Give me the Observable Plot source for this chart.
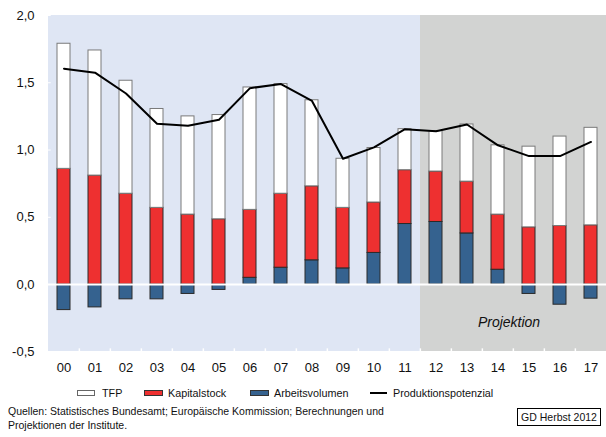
<!DOCTYPE html>
<html>
<head>
<meta charset="utf-8">
<script src="https://cdn.jsdelivr.net/npm/d3@7"></script>
<script src="https://cdn.jsdelivr.net/npm/@observablehq/plot@0.6"></script>
<style>
  html, body { margin: 0; padding: 0; background: #fff; }
  #wrap { position: relative; width: 606px; height: 437px; overflow: hidden; font-family: "Liberation Sans", Arial, sans-serif; color: #111; }
  #chart { position: absolute; left: 0; top: 0; width: 606px; height: 380px; overflow: hidden; }
  .lg-box { position: absolute; box-sizing: border-box; height: 6px; }
  .lg-txt { position: absolute; font-size: 10.8px; line-height: 12px; white-space: nowrap; }
  .lg-line { position: absolute; height: 2px; background: #000; }
  #caption { position: absolute; left: 8px; top: 404px; font-size: 10.5px; line-height: 14px; white-space: nowrap; }
  #gd { position: absolute; left: 517px; top: 408px; width: 84px; height: 18px; box-sizing: border-box; border: 1px solid #000; font-size: 10.5px; line-height: 16px; text-align: center; white-space: nowrap; }
</style>
</head>
<body>
<div id="wrap">
  <div id="chart"></div>
  <div class="lg-box" style="left:77px;top:390px;width:18px;background:#fff;border:1px solid #666;"></div>
  <div class="lg-txt" style="left:102px;top:387px;">TFP</div>
  <div class="lg-box" style="left:144px;top:390px;width:19px;background:#ee3030;border:1px solid #333;"></div>
  <div class="lg-txt" style="left:168px;top:387px;">Kapitalstock</div>
  <div class="lg-box" style="left:250px;top:390px;width:19px;background:#35628f;border:1px solid #333;"></div>
  <div class="lg-txt" style="left:274px;top:387px;">Arbeitsvolumen</div>
  <div class="lg-line" style="left:370px;top:392px;width:17px;"></div>
  <div class="lg-txt" style="left:393px;top:387px;">Produktionspotenzial</div>
  <div id="caption">Quellen: Statistisches Bundesamt; Europäische Kommission; Berechnungen und<br>Projektionen der Institute.</div>
  <div id="gd">GD Herbst 2012</div>
</div>
<script>
const years = ["00","01","02","03","04","05","06","07","08","09","10","11","12","13","14","15","16","17"];
const tfp   = [0.93, 0.93, 0.84, 0.735, 0.73, 0.775, 0.91, 0.815, 0.64, 0.365, 0.405, 0.305, 0.30, 0.425, 0.515, 0.60, 0.665, 0.725];
const kap   = [0.86, 0.81, 0.675, 0.57, 0.52, 0.485, 0.505, 0.55, 0.55, 0.45, 0.375, 0.40, 0.375, 0.385, 0.41, 0.425, 0.435, 0.44];
const arb   = [-0.19, -0.17, -0.11, -0.11, -0.07, -0.04, 0.05, 0.125, 0.18, 0.12, 0.235, 0.45, 0.465, 0.38, 0.11, -0.07, -0.15, -0.105];
const pot   = [1.605, 1.575, 1.42, 1.195, 1.18, 1.225, 1.46, 1.49, 1.365, 0.935, 1.02, 1.155, 1.14, 1.19, 1.035, 0.955, 0.955, 1.06];
const projStart = "12";
const yTicks = [-0.5, 0, 0.5, 1, 1.5, 2];
const components = ["Arbeitsvolumen", "Kapitalstock", "TFP"];
const fills   = {"Arbeitsvolumen": "#35628f", "Kapitalstock": "#ee3030", "TFP": "#ffffff"};
const strokes = {"Arbeitsvolumen": "#2a2a2a", "Kapitalstock": "#2a2a2a", "TFP": "#7a7a7a"};

const rows = years.flatMap((yr, i) => [
  {year: yr, comp: "Arbeitsvolumen", v: arb[i]},
  {year: yr, comp: "Kapitalstock", v: kap[i]},
  {year: yr, comp: "TFP", v: tfp[i]}
]);
const lineData = years.map((yr, i) => ({year: yr, v: pot[i]}));

const xRange = [45.4, 608.6];
const bw = (xRange[1] - xRange[0]) / years.length;
const fmt = d => d.toFixed(1).replace(".", ",");

const chart = Plot.plot({
  width: 606,
  height: 380,
  marginLeft: 45,
  marginTop: 15,
  marginBottom: 29,
  marginRight: 0,
  style: {fontFamily: "Liberation Sans, Arial, sans-serif", fontSize: "13px", color: "#111", background: "transparent"},
  x: {domain: years, range: xRange, padding: 0},
  y: {domain: [-0.5, 2], range: [351.3, 15]},
  marks: [
    Plot.barY(years, {x: d => d, y1: -0.5, y2: 2, fill: d => d >= projStart ? "#d2d3d2" : "#dfe6f4", shapeRendering: "crispEdges"}),
    Plot.barY(rows, Plot.stackY({
      x: "year", y: "v", z: "comp", order: components,
      fill: d => fills[d.comp], stroke: d => strokes[d.comp], strokeWidth: 1,
      insetLeft: 9, insetRight: 9
    })),
    Plot.ruleY([0], {stroke: "#fff", strokeWidth: 2}),
    Plot.tickY(yTicks, {y: d => d, x: () => years[0], insetRight: bw - 3, stroke: "#fff", strokeWidth: 1}),
    Plot.ruleX(years.slice(1), {x: d => d, dx: -bw / 2, y1: -0.5, y2: -0.478, stroke: "#fff", strokeWidth: 1.5}),
    Plot.line(lineData, {x: "year", y: "v", stroke: "#000", strokeWidth: 2}),
    Plot.text(["Projektion"], {x: () => "15", dx: -20, y: -0.285, text: d => d, fontSize: 14, fontStyle: "italic", fill: "#111"}),
    Plot.axisY(yTicks, {tickSize: 0, tickPadding: 11, tickFormat: fmt, fontSize: 13, label: null}),
    Plot.axisX({tickSize: 0, tickPadding: 11, fontSize: 13, label: null})
  ]
});
document.getElementById("chart").appendChild(chart);
</script>
</body>
</html>
